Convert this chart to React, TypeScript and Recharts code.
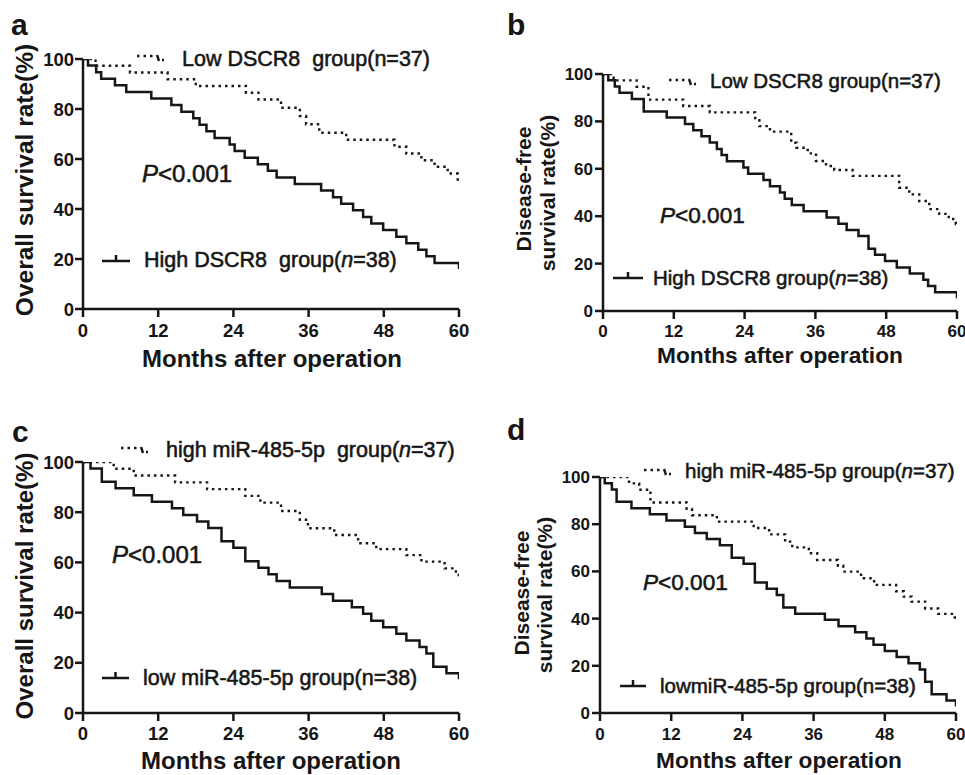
import React from 'react';
import { ComposedChart, Line, Scatter, XAxis, YAxis } from 'recharts';

// shared axis ticks
const monthTicks = [0, 12, 24, 36, 48, 60];
const rateTicks = [0, 20, 40, 60, 80, 100];

// a: overall survival, DSCR8
const aLowMonths = [0, 2.0, 7.5, 13.5, 18.0, 26.0, 28.0, 31.6, 34.6, 35.6, 37.7, 42.0, 49.7, 51.6, 54.0, 56.1, 58.2, 59.8, 60];
const aLowRate = [100, 97.3, 94.6, 91.9, 89.2, 86.5, 83.8, 80.5, 77.2, 73.9, 70.5, 67.7, 64.9, 62.2, 59.5, 56.9, 54.2, 51.8, 51.8];
const aHighMonths = [0, 0.8, 2.1, 2.9, 5.1, 6.9, 10.9, 14.1, 15.7, 17.6, 18.6, 19.7, 21.0, 23.4, 24.2, 25.8, 27.9, 29.5, 30.9, 33.8, 38.0, 39.9, 41.2, 43.1, 44.7, 46.0, 47.9, 50.0, 51.6, 53.5, 54.8, 56.1, 60];
const aHighRate = [100, 97.4, 94.7, 92.1, 89.5, 86.8, 84.2, 81.6, 78.9, 76.3, 73.7, 71.1, 68.4, 65.8, 63.2, 60.5, 57.9, 55.3, 52.6, 50.0, 47.4, 44.7, 42.1, 39.5, 36.8, 34.2, 31.6, 28.9, 26.3, 23.7, 21.1, 18.4, 18.4];

// b: disease-free survival, DSCR8
const bLowMonths = [0, 1.8, 5.7, 7.7, 13.6, 18.1, 25.8, 26.5, 28.3, 31.9, 32.8, 34.7, 36.1, 37.8, 39.2, 42.3, 50.2, 51.9, 53.6, 55.3, 57.0, 58.6, 59.8, 60];
const bLowRate = [100, 97.3, 94.6, 89.2, 86.5, 83.8, 80.5, 78.0, 75.7, 71.0, 68.9, 66.5, 63.3, 61.2, 59.5, 57.0, 52.0, 49.2, 46.4, 43.0, 41.0, 38.8, 36.7, 36.7];
const bHighMonths = [0, 0.9, 2.0, 2.8, 4.9, 6.9, 10.8, 13.9, 15.3, 16.7, 18.1, 19.3, 20.1, 21.0, 23.8, 24.6, 27.2, 28.3, 30.0, 30.8, 32.0, 34.0, 37.9, 39.9, 41.3, 43.3, 45.0, 46.1, 47.8, 49.8, 52.0, 54.3, 55.1, 56.3, 60];
const bHighRate = [100, 97.4, 94.7, 92.1, 89.5, 84.2, 81.6, 78.9, 76.3, 73.7, 71.1, 68.4, 65.8, 63.2, 60.5, 57.9, 55.3, 52.6, 50.0, 47.4, 44.7, 42.1, 39.5, 36.8, 34.2, 31.6, 26.3, 23.7, 21.1, 18.4, 15.8, 13.2, 10.5, 7.9, 7.9];

// c: overall survival, miR-485-5p
const cHighMonths = [0, 4.9, 8.1, 14.7, 19.8, 25.9, 28.3, 31.6, 34.6, 35.9, 40.1, 43.9, 46.8, 51.6, 54.0, 57.7, 59.5, 60];
const cHighRate = [100, 97.3, 94.6, 91.9, 89.2, 86.5, 83.8, 80.5, 77.0, 73.6, 70.9, 67.6, 65.3, 62.9, 60.3, 57.6, 55.0, 55.0];
const cLowMonths = [0, 1.2, 3.0, 5.2, 8.1, 11.0, 14.2, 16.0, 18.2, 20.0, 22.1, 24.0, 25.9, 28.0, 29.6, 30.9, 33.0, 38.1, 39.9, 42.9, 44.7, 46.0, 47.9, 50.0, 51.6, 53.7, 54.8, 55.9, 58.0, 60];
const cLowRate = [100, 97.4, 92.1, 89.5, 86.8, 84.2, 81.6, 78.9, 76.3, 73.7, 68.4, 65.8, 60.5, 57.9, 55.3, 52.6, 50.0, 47.4, 44.7, 42.1, 39.5, 36.8, 34.2, 31.6, 28.9, 26.3, 23.7, 18.4, 15.8, 15.8];

// d: disease-free survival, miR-485-5p
const dHighMonths = [0, 4.9, 6.6, 8.5, 14.6, 15.5, 19.7, 25.9, 28.5, 31.2, 32.4, 35.2, 36.6, 40.1, 41.0, 44.0, 46.2, 49.9, 51.2, 52.5, 54.8, 57.0, 59.8, 60];
const dHighRate = [100, 97.3, 94.6, 89.2, 86.5, 83.8, 81.1, 78.4, 75.7, 72.6, 70.2, 67.7, 64.8, 62.4, 59.9, 57.1, 54.3, 51.6, 49.3, 47.2, 44.3, 42.0, 38.9, 38.9];
const dLowMonths = [0, 0.8, 2.0, 2.8, 5.3, 8.4, 11.2, 14.3, 16.0, 18.0, 20.2, 22.2, 24.2, 26.1, 28.1, 29.8, 30.9, 32.9, 37.9, 40.2, 43.0, 44.9, 46.1, 48.0, 50.0, 52.0, 53.9, 54.8, 55.9, 58.4, 60];
const dLowRate = [100, 97.4, 94.7, 89.5, 86.8, 84.2, 81.6, 78.9, 76.3, 73.7, 71.1, 65.8, 63.2, 55.3, 52.6, 50.0, 44.7, 42.1, 39.5, 36.8, 34.2, 31.6, 28.9, 26.3, 23.7, 21.1, 18.4, 13.2, 7.9, 5.3, 5.3];

const INK = '#161616';
const FONT = 'Arial, "Liberation Sans", Helvetica, sans-serif';

const toPoints = (months: number[], rate: number[]) => months.map((t, i) => ({ t, s: rate[i] }));
const lastPoint = (months: number[], rate: number[]) => [{ t: months[months.length - 1], s: rate[rate.length - 1] }];

// censor tick at the end of the solid curve
const CensorTick = (p: any) => (
  <line x1={p.cx} x2={p.cx} y1={p.cy - 1} y2={p.cy + 6} stroke={INK} strokeWidth={2.5} />
);

type PanelProps = {
  left: number;
  top: number;
  width: number;
  height: number;
  plot: [number, number, number, number]; // x0, y0, x1, y1 inside the panel
  tickFont: number;
  xTickMargin: number;
  yTickMargin: number;
  dotted: { t: number; s: number }[];
  solid: { t: number; s: number }[];
  solidEnd: { t: number; s: number }[];
};

function KMPanel({ left, top, width, height, plot, tickFont, xTickMargin, yTickMargin, dotted, solid, solidEnd }: PanelProps) {
  const [x0, y0, x1, y1] = plot;
  const xAxisHeight = 40;
  const axisStyle = { stroke: INK, strokeWidth: 2.5 };
  const tickStyle = { fill: INK, fontSize: tickFont, fontWeight: 700, fontFamily: FONT };
  return (
    <div style={{ position: 'absolute', left, top }}>
      <ComposedChart
        width={width}
        height={height}
        margin={{ top: y0, right: width - x1, bottom: height - y1 - xAxisHeight, left: 0 }}
      >
        <XAxis
          type="number"
          dataKey="t"
          domain={[0, 60]}
          ticks={monthTicks}
          interval={0}
          height={xAxisHeight}
          axisLine={axisStyle}
          tickLine={axisStyle}
          tickSize={8}
          tickMargin={xTickMargin}
          tick={tickStyle}
          allowDataOverflow
        />
        <YAxis
          type="number"
          dataKey="s"
          domain={[0, 100]}
          ticks={rateTicks}
          interval={0}
          width={x0}
          axisLine={axisStyle}
          tickLine={axisStyle}
          tickSize={8}
          tickMargin={yTickMargin}
          tick={tickStyle}
          allowDataOverflow
        />
        <Line
          data={dotted}
          dataKey="s"
          type="stepAfter"
          stroke={INK}
          strokeWidth={2.4}
          strokeDasharray="2.5 4"
          dot={false}
          isAnimationActive={false}
        />
        <Line
          data={solid}
          dataKey="s"
          type="stepAfter"
          stroke={INK}
          strokeWidth={2.5}
          dot={false}
          isAnimationActive={false}
        />
        <Scatter data={solidEnd} dataKey="s" shape={CensorTick} isAnimationActive={false} />
      </ComposedChart>
    </div>
  );
}

function DottedKey({ x, y }: { x: number; y: number }) {
  return (
    <g>
      <line x1={x} x2={x + 18} y1={y - 2} y2={y - 2} stroke={INK} strokeWidth={2.4} strokeDasharray="2.5 4" />
      <line x1={x + 20} x2={x + 22} y1={y - 3} y2={y + 3} stroke={INK} strokeWidth={2.4} />
      <line x1={x + 25} x2={x + 27} y1={y + 2} y2={y + 2} stroke={INK} strokeWidth={2.4} />
    </g>
  );
}

function SolidKey({ x, y, w }: { x: number; y: number; w: number }) {
  return (
    <g>
      <line x1={x} x2={x + w} y1={y} y2={y} stroke={INK} strokeWidth={2.5} />
      <line x1={x + w / 2} x2={x + w / 2} y1={y - 6} y2={y} stroke={INK} strokeWidth={2.5} />
    </g>
  );
}

// legend / p-value text: regular weight, slightly thickened like the scanned figure
const softText = { fill: INK, fontFamily: FONT, stroke: INK, strokeWidth: 0.55 };

function PValue({ x, y, size }: { x: number; y: number; size: number }) {
  return (
    <text x={x} y={y} fontSize={size} {...softText}>
      <tspan fontStyle="italic">P</tspan>&lt;0.001
    </text>
  );
}

export default function App() {
  return (
    <div style={{ position: 'absolute', left: 0, top: 0, width: 965, height: 775, background: '#fff', overflow: 'hidden' }}>
      <KMPanel
        left={0} top={0} width={480} height={390}
        plot={[83, 59, 459, 309]}
        tickFont={18.5} xTickMargin={7} yTickMargin={1}
        dotted={toPoints(aLowMonths, aLowRate)}
        solid={toPoints(aHighMonths, aHighRate)}
        solidEnd={lastPoint(aHighMonths, aHighRate)}
      />
      <KMPanel
        left={480} top={0} width={485} height={390}
        plot={[123, 74, 477, 311]}
        tickFont={17} xTickMargin={6} yTickMargin={2}
        dotted={toPoints(bLowMonths, bLowRate)}
        solid={toPoints(bHighMonths, bHighRate)}
        solidEnd={lastPoint(bHighMonths, bHighRate)}
      />
      <KMPanel
        left={0} top={390} width={480} height={385}
        plot={[83, 72, 459, 323]}
        tickFont={18.5} xTickMargin={6} yTickMargin={1}
        dotted={toPoints(cHighMonths, cHighRate)}
        solid={toPoints(cLowMonths, cLowRate)}
        solidEnd={lastPoint(cLowMonths, cLowRate)}
      />
      <KMPanel
        left={480} top={390} width={485} height={385}
        plot={[120, 87, 476, 323]}
        tickFont={17} xTickMargin={7} yTickMargin={2}
        dotted={toPoints(dHighMonths, dHighRate)}
        solid={toPoints(dLowMonths, dLowRate)}
        solidEnd={lastPoint(dLowMonths, dLowRate)}
      />

      <svg width={965} height={775} style={{ position: 'absolute', left: 0, top: 0, pointerEvents: 'none' }}>
        <g fontFamily={FONT} fill={INK}>
          {/* panel letters */}
          <text x={11} y={35} fontSize={30} fontWeight={700}>a</text>
          <text x={507} y={35} fontSize={30} fontWeight={700}>b</text>
          <text x={12} y={442} fontSize={30} fontWeight={700}>c</text>
          <text x={507} y={440} fontSize={30} fontWeight={700}>d</text>

          {/* y axis titles */}
          <text transform="translate(33,180) rotate(-90)" textAnchor="middle" fontSize={24.5} fontWeight={700}>Overall survival rate(%)</text>
          <text transform="translate(531,189) rotate(-90)" textAnchor="middle" fontSize={21} fontWeight={700}>Disease-free</text>
          <text transform="translate(555,193) rotate(-90)" textAnchor="middle" fontSize={21} fontWeight={700}>survival rate(%)</text>
          <text transform="translate(33,586) rotate(-90)" textAnchor="middle" fontSize={24} fontWeight={700}>Overall survival rate(%)</text>
          <text transform="translate(529,593) rotate(-90)" textAnchor="middle" fontSize={21} fontWeight={700}>Disease-free</text>
          <text transform="translate(552,595) rotate(-90)" textAnchor="middle" fontSize={21} fontWeight={700}>survival rate(%)</text>

          {/* x axis titles */}
          <text x={272} y={367} textAnchor="middle" fontSize={24} fontWeight={700}>Months after operation</text>
          <text x={780} y={363} textAnchor="middle" fontSize={22.7} fontWeight={700}>Months after operation</text>
          <text x={271} y={769} textAnchor="middle" fontSize={24} fontWeight={700}>Months after operation</text>
          <text x={779} y={768} textAnchor="middle" fontSize={22.7} fontWeight={700}>Months after operation</text>
        </g>

        {/* P values */}
        <PValue x={142} y={182} size={24} />
        <PValue x={660} y={223} size={22.6} />
        <PValue x={112} y={563} size={24} />
        <PValue x={643} y={590} size={22.6} />

        {/* legends */}
        <DottedKey x={137} y={58} />
        <text x={182} y={66} fontSize={21.5} {...softText} xmlSpace="preserve">Low DSCR8  group(n=37)</text>
        <SolidKey x={102} y={261} w={28} />
        <text x={144} y={267} fontSize={21.5} {...softText} xmlSpace="preserve">
          High DSCR8  group(<tspan fontStyle="italic">n</tspan>=38)
        </text>

        <DottedKey x={669} y={82} />
        <text x={710} y={88} fontSize={20.5} {...softText}>Low DSCR8 group(n=37)</text>
        <SolidKey x={613} y={278} w={30} />
        <text x={653} y={285} fontSize={20.5} {...softText}>
          High DSCR8 group(<tspan fontStyle="italic">n</tspan>=38)
        </text>

        <DottedKey x={121} y={450} />
        <text x={166} y={457} fontSize={21.5} {...softText} xmlSpace="preserve">
          high miR-485-5p  group(<tspan fontStyle="italic">n</tspan>=37)
        </text>
        <SolidKey x={102} y={678} w={27} />
        <text x={143} y={685} fontSize={21.5} {...softText}>low miR-485-5p group(n=38)</text>

        <DottedKey x={644} y={472} />
        <text x={685} y={478} fontSize={20.5} {...softText}>
          high miR-485-5p group(<tspan fontStyle="italic">n</tspan>=37)
        </text>
        <SolidKey x={620} y={686} w={26} />
        <text x={660} y={693} fontSize={20.5} {...softText}>lowmiR-485-5p group(n=38)</text>
      </svg>
    </div>
  );
}
